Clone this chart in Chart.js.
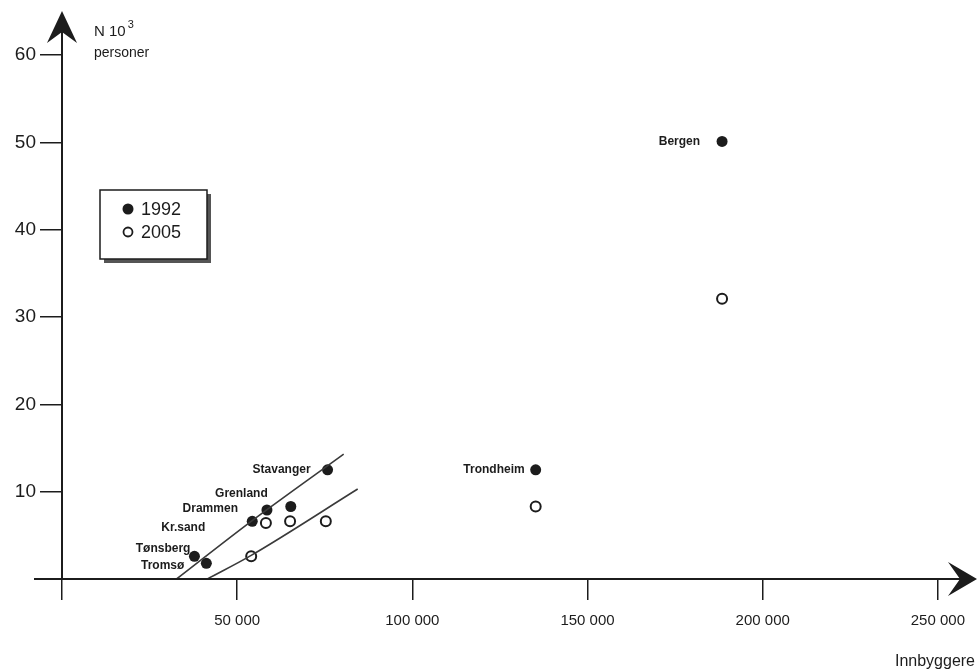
<!DOCTYPE html>
<html>
<head>
<meta charset="utf-8">
<script src="https://cdn.jsdelivr.net/npm/chart.js@4/dist/chart.umd.min.js"></script>
<style>
  html, body { margin: 0; padding: 0; background: #fff; }
  canvas { display: block; }
</style>
</head>
<body>
<canvas id="chart" width="977" height="671"></canvas>
<script>
// cities and values (x = innbyggere, y = N 10^3 personer)
const cities = ["Tromsø", "Tønsberg", "Kr.sand", "Drammen", "Grenland", "Stavanger", "Trondheim", "Bergen"];
const pop1992 = [41200, 37800, 54300, 58500, 65300, 75800, 135200, 188400];
const n1992 = [1.8, 2.6, 6.6, 7.9, 8.3, 12.5, 12.5, 50.1];

const pop2005 = [54000, 58200, 65100, 75300, 135200, 188400];
const n2005 = [2.6, 6.4, 6.6, 6.6, 8.3, 32.1];

// hand drawn trend curves
const curve1992X = [32700, 54000, 80400];
const curve1992Y = [0, 6.6, 14.3];
const curve2005X = [41500, 54000, 84400];
const curve2005Y = [0, 2.7, 10.3];

const xTicks = [0, 50000, 100000, 150000, 200000, 250000];
const yTicks = [0, 10, 20, 30, 40, 50, 60];
const seriesNames = ["1992", "2005"];

// label placement next to the 1992 points (pixels)
const labelOffsets = {
  "Tromsø": [-22, 2],
  "Tønsberg": [-4, -8],
  "Kr.sand": [-47, 6],
  "Drammen": [-29, -1],
  "Grenland": [-23, -13],
  "Stavanger": [-17, 0],
  "Trondheim": [-11, 0],
  "Bergen": [-22, 0]
};

const FONT = "'Liberation Sans', Arial, sans-serif";
const INK = "#1c1c1c";

function toPoints(xs, ys) {
  return xs.map((x, i) => ({ x: x, y: ys[i] }));
}

function fmtThousands(v) {
  if (v === 0) return "";
  return String(v).replace(/\B(?=(\d{3})+(?!\d))/g, " ");
}

const decorPlugin = {
  id: "decor",
  afterDraw(chart) {
    const ctx = chart.ctx;
    const xs = chart.scales.x, ys = chart.scales.y;
    const ox = xs.getPixelForValue(0);
    const oy = ys.getPixelForValue(0);
    ctx.save();

    // axes with arrows
    ctx.strokeStyle = INK;
    ctx.fillStyle = INK;
    ctx.lineWidth = 2;
    ctx.beginPath();
    ctx.moveTo(34, oy);
    ctx.lineTo(968, oy);
    ctx.moveTo(ox, oy);
    ctx.lineTo(ox, 20);
    ctx.stroke();

    ctx.beginPath();
    ctx.moveTo(ox, 11);
    ctx.lineTo(ox + 15, 43);
    ctx.lineTo(ox, 32);
    ctx.lineTo(ox - 15, 43);
    ctx.closePath();
    ctx.fill();

    ctx.beginPath();
    ctx.moveTo(977, oy);
    ctx.lineTo(948, oy - 17);
    ctx.lineTo(960, oy);
    ctx.lineTo(948, oy + 17);
    ctx.closePath();
    ctx.fill();

    // axis titles
    ctx.textBaseline = "alphabetic";
    ctx.textAlign = "left";
    ctx.font = "15px " + FONT;
    ctx.fillText("N 10", 94, 36);
    const w = ctx.measureText("N 10").width;
    ctx.font = "11px " + FONT;
    ctx.fillText("3", 94 + w + 2, 28);
    ctx.font = "14px " + FONT;
    ctx.fillText("personer", 94, 57);

    ctx.font = "16px " + FONT;
    ctx.textAlign = "right";
    ctx.fillText("Innbyggere", 975, 666);

    // city labels
    ctx.font = "bold 12px " + FONT;
    ctx.textBaseline = "middle";
    cities.forEach((c, i) => {
      const off = labelOffsets[c];
      const px = xs.getPixelForValue(pop1992[i]) + off[0];
      const py = ys.getPixelForValue(n1992[i]) + off[1];
      ctx.fillText(c, px, py);
    });

    // legend box with shadow
    const lx = 100, ly = 190, lw = 107, lh = 69;
    ctx.fillStyle = "#555";
    ctx.fillRect(lx + 4, ly + 4, lw, lh);
    ctx.fillStyle = "#fff";
    ctx.fillRect(lx, ly, lw, lh);
    ctx.lineWidth = 1.5;
    ctx.strokeStyle = INK;
    ctx.strokeRect(lx, ly, lw, lh);

    ctx.fillStyle = INK;
    ctx.beginPath();
    ctx.arc(lx + 28, ly + 19, 5.5, 0, Math.PI * 2);
    ctx.fill();
    ctx.lineWidth = 1.8;
    ctx.beginPath();
    ctx.arc(lx + 28, ly + 42, 4.5, 0, Math.PI * 2);
    ctx.stroke();

    ctx.font = "18px " + FONT;
    ctx.textAlign = "left";
    ctx.textBaseline = "middle";
    ctx.fillText(seriesNames[0], lx + 41, ly + 20);
    ctx.fillText(seriesNames[1], lx + 41, ly + 43);

    ctx.restore();
  }
};

new Chart(document.getElementById("chart"), {
  type: "scatter",
  data: {
    datasets: [
      {
        label: "trend 1992",
        data: toPoints(curve1992X, curve1992Y),
        showLine: true,
        borderColor: "#3a3a3a",
        borderWidth: 1.6,
        pointRadius: 0,
        cubicInterpolationMode: "monotone"
      },
      {
        label: "trend 2005",
        data: toPoints(curve2005X, curve2005Y),
        showLine: true,
        borderColor: "#3a3a3a",
        borderWidth: 1.6,
        pointRadius: 0,
        cubicInterpolationMode: "monotone"
      },
      {
        label: seriesNames[1],
        data: toPoints(pop2005, n2005),
        pointRadius: 5,
        backgroundColor: "#fff",
        borderColor: INK,
        borderWidth: 2
      },
      {
        label: seriesNames[0],
        data: toPoints(pop1992, n1992),
        pointRadius: 5.5,
        backgroundColor: INK,
        borderColor: INK,
        borderWidth: 0
      }
    ]
  },
  options: {
    responsive: false,
    animation: false,
    layout: { padding: { top: 55, right: 35, left: 0, bottom: 0 } },
    plugins: {
      legend: { display: false },
      tooltip: { enabled: false }
    },
    scales: {
      x: {
        type: "linear",
        min: 0,
        max: 250000,
        afterBuildTicks: (s) => { s.ticks = xTicks.map(v => ({ value: v })); },
        afterFit: (s) => { s.height = 92; },
        border: { display: false },
        grid: {
          drawOnChartArea: false,
          drawTicks: true,
          tickLength: 21,
          color: INK,
          lineWidth: 1.5
        },
        ticks: {
          callback: (v) => fmtThousands(v),
          color: INK,
          padding: 12,
          maxRotation: 0,
          font: { family: FONT, size: 15 }
        }
      },
      y: {
        type: "linear",
        min: 0,
        max: 60,
        afterBuildTicks: (s) => { s.ticks = yTicks.map(v => ({ value: v })); },
        afterFit: (s) => { s.width = 62; },
        border: { display: false },
        grid: {
          drawOnChartArea: false,
          drawTicks: true,
          tickLength: 22,
          color: INK,
          lineWidth: 1.5
        },
        ticks: {
          callback: (v) => v === 0 ? "" : String(v),
          color: INK,
          padding: 4,
          font: { family: FONT, size: 19 }
        }
      }
    }
  },
  plugins: [decorPlugin]
});
</script>
</body>
</html>
